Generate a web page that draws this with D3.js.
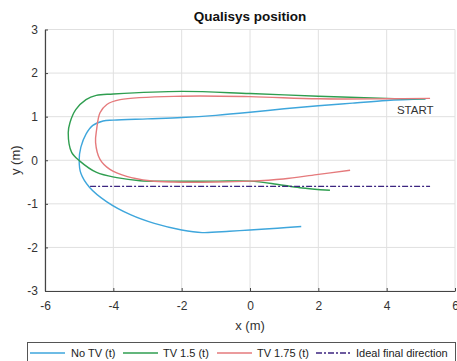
<!DOCTYPE html>
<html>
<head>
<meta charset="utf-8">
<script src="https://cdn.jsdelivr.net/npm/d3@7"></script>
<style>
  body { margin: 0; background: #fff; }
  svg { font-family: "Liberation Sans", Arial, sans-serif; }
</style>
</head>
<body>
<svg width="457" height="361"></svg>
<script>
// trajectories, in metres
const noTvX = [5.15, 4, 3, 2, 1, 0, -1, -2, -3, -4, -4.3, -4.6, -4.8, -4.95, -5, -4.95, -4.7, -4.2, -3.5, -2.8, -2, -1.4, -0.6, 0, 0.8, 1.5];
const noTvY = [1.41, 1.37, 1.31, 1.25, 1.18, 1.1, 1.03, 0.98, 0.95, 0.92, 0.9, 0.8, 0.6, 0.3, 0, -0.3, -0.62, -0.95, -1.25, -1.45, -1.6, -1.66, -1.63, -1.6, -1.56, -1.52];

const tv15X = [5.12, 4, 2, 0, -2, -4, -4.5, -4.8, -5.1, -5.27, -5.32, -5.22, -4.98, -4.49, -3.9, -3.22, -2.25, -1, 0, 0.78, 1.46, 2.34];
const tv15Y = [1.41, 1.42, 1.47, 1.53, 1.58, 1.52, 1.49, 1.39, 1.16, 0.86, 0.63, 0.18, -0.02, -0.28, -0.4, -0.47, -0.48, -0.48, -0.48, -0.55, -0.63, -0.69];

const tv175X = [5.27, 4, 2, 0, -2, -3.8, -4.19, -4.39, -4.49, -4.52, -4.39, -4.1, -3.61, -2.93, -2.25, -1, 0, 0.97, 1.95, 2.93];
const tv175Y = [1.42, 1.41, 1.41, 1.46, 1.47, 1.39, 1.28, 1.09, 0.7, 0.41, 0.02, -0.21, -0.37, -0.47, -0.5, -0.5, -0.48, -0.43, -0.33, -0.23];

const idealX = [-4.68, 5.27];
const idealY = [-0.6, -0.6];

const xTicks = [-6, -4, -2, 0, 2, 4, 6];
const yTicks = [-3, -2, -1, 0, 1, 2, 3];

const seriesNames = ['No TV (t)', 'TV 1.5 (t)', 'TV 1.75 (t)', 'Ideal final direction'];
const seriesColors = ['#3ea6dc', '#2f9e50', '#e57a7c', '#3c2580'];

const margin = { top: 29.5, right: 2, bottom: 70, left: 45 };
const width = 457 - margin.left - margin.right;
const height = 361 - margin.top - margin.bottom;

const svg = d3.select('svg');
const g = svg.append('g').attr('transform', `translate(${margin.left},${margin.top})`);

const x = d3.scaleLinear().domain([-6, 6]).range([0, width]);
const y = d3.scaleLinear().domain([-3, 3]).range([height, 0]);
const fmt = d => String(d); // plain hyphen minus, no decimals

// grid
g.append('g').selectAll('line').data(xTicks).enter().append('line')
  .attr('x1', d => x(d)).attr('x2', d => x(d)).attr('y1', 0).attr('y2', height)
  .attr('stroke', '#e0e0e0');
g.append('g').selectAll('line').data(yTicks).enter().append('line')
  .attr('y1', d => y(d)).attr('y2', d => y(d)).attr('x1', 0).attr('x2', width)
  .attr('stroke', '#e0e0e0');

// axes (MATLAB style, inward ticks)
const xAxis = g.append('g').attr('transform', `translate(0,${height})`)
  .call(d3.axisBottom(x).tickValues(xTicks).tickFormat(fmt).tickSizeInner(-3).tickSizeOuter(0).tickPadding(10));
const yAxis = g.append('g')
  .call(d3.axisLeft(y).tickValues(yTicks).tickFormat(fmt).tickSizeInner(-3).tickSizeOuter(0).tickPadding(7));
[xAxis, yAxis].forEach(a => {
  a.select('.domain').attr('stroke', '#444').attr('stroke-width', 1.2);
  a.selectAll('.tick line').attr('stroke', '#444');
  a.selectAll('.tick text').attr('fill', '#333').style('font-size', '12px');
});

// data lines
const line = d3.line().x(d => x(d[0])).y(d => y(d[1])).curve(d3.curveCatmullRom);
const series = [
  d3.zip(noTvX, noTvY),
  d3.zip(tv15X, tv15Y),
  d3.zip(tv175X, tv175Y)
];
series.forEach((s, i) => {
  g.append('path').datum(s).attr('d', line)
    .attr('fill', 'none').attr('stroke', seriesColors[i]).attr('stroke-width', 1.4);
});
g.append('path').datum(d3.zip(idealX, idealY)).attr('d', d3.line().x(d => x(d[0])).y(d => y(d[1])))
  .attr('fill', 'none').attr('stroke', seriesColors[3]).attr('stroke-width', 1.2)
  .attr('stroke-dasharray', '6,2,2,2');

g.append('text').attr('x', x(4.3)).attr('y', y(1.05))
  .attr('fill', '#333').style('font-size', '11.5px').text('START');

// title and labels
svg.append('text').attr('x', 250).attr('y', 21)
  .attr('text-anchor', 'middle').style('font-size', '13.5px').style('font-weight', 'bold')
  .attr('fill', '#111').text('Qualisys position');
svg.append('text').attr('x', 250).attr('y', 330)
  .attr('text-anchor', 'middle').style('font-size', '13px').attr('fill', '#333').text('x (m)');
svg.append('text').attr('transform', `translate(20,${y(0) + margin.top}) rotate(-90)`)
  .attr('text-anchor', 'middle').style('font-size', '13px').attr('fill', '#333').text('y (m)');

// legend
const lg = svg.append('g');
lg.append('rect').attr('x', 27.5).attr('y', 342.5).attr('width', 428).attr('height', 24)
  .attr('fill', '#fff').attr('stroke', '#555');
const legendPos = [[30, 71], [123, 163], [217, 257], [316, 356]];
seriesNames.forEach((n, i) => {
  const [lx, tx] = legendPos[i];
  lg.append('line').attr('x1', lx).attr('x2', lx + 35).attr('y1', 353).attr('y2', 353)
    .attr('stroke', seriesColors[i]).attr('stroke-width', 1.3)
    .attr('stroke-dasharray', i === 3 ? '6,2,2,2' : null);
  lg.append('text').attr('x', tx).attr('y', 357).style('font-size', '11px')
    .attr('fill', '#222').text(n);
});
</script>
</body>
</html>
